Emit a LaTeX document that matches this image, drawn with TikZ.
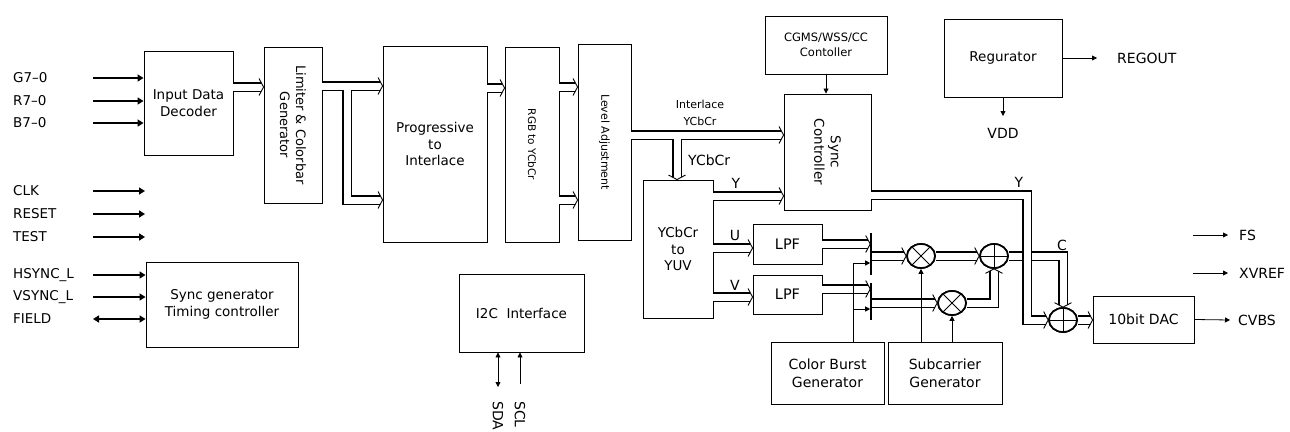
\documentclass[tikz,border=0pt]{standalone}
\usepackage{fontspec}
\setmainfont{DejaVu Sans}
\usetikzlibrary{arrows.meta,shapes.geometric,calc}
\begin{document}
\begin{tikzpicture}[x=1pt,y=-1pt,
  box/.style={draw, line width=0.9pt, inner sep=0pt, align=center, font=\fontsize{13.5}{16.5}\selectfont},
  lbl/.style={inner sep=0pt, font=\fontsize{13.5}{16}\selectfont},
  inarr/.style={line width=1.5pt, -{Triangle[length=6pt,width=7pt]}},
  sarr/.style={line width=0.8pt, -{Triangle[length=5pt,width=5pt]}},
  op/.style={draw, ellipse, line width=1.7pt, inner sep=0pt, minimum width=28pt, minimum height=24pt},
  bar/.style={fill=black, inner sep=0pt, minimum width=1.2pt},
  dblack/.style={line width=10pt, shorten >=2.4pt},
  dwhite/.style={white, line width=7pt, shorten >=1pt},
  dstyle/.style={dblack},
  tipr/.pic={\draw[line width=0.9pt] (-4.5,-8.5) -- (0,0) -- (-4.5,8.5);},
  tipd/.pic={\draw[line width=0.9pt] (-8.5,-4.5) -- (0,0) -- (8.5,-4.5);},
  tipu/.pic={\draw[line width=0.9pt] (-8.5,4.5) -- (0,0) -- (8.5,4.5);}
]
\useasboundingbox (0,0) rectangle (1290,431);

% boxes
\node[box, minimum width=89pt, minimum height=104pt] (dec) at (188.5,103) {Input Data\\Decoder};
\node[box, minimum width=58pt, minimum height=156pt] (lim) at (293,125) {};
\node[rotate=-90, align=center, inner sep=0pt, font=\fontsize{13}{16}\selectfont] (limt) at (lim.center) {Limiter \& Colorbar\\Generator};
\node[box, minimum width=104pt, minimum height=196pt] (prog) at (435,144) {Progressive\\to\\Interlace};
\node[box, minimum width=54pt, minimum height=195pt] (rgb) at (532,144.5) {};
\node[rotate=-90, inner sep=0pt, font=\fontsize{10.5}{13}\selectfont] (rgbt) at (rgb.center) {RGB to YCbCr};
\node[box, minimum width=53pt, minimum height=196pt] (lvl) at (604.5,142) {};
\node[rotate=-90, inner sep=0pt, font=\fontsize{11}{13}\selectfont] (lvlt) at (lvl.center) {Level Adjustment};
\node[box, minimum width=152pt, minimum height=85pt] (sgen) at (222,304.5) {Sync generator\\Timing controller};
\node[box, minimum width=125pt, minimum height=78pt] (i2c) at (521.5,313) {I2C\ \ Interface};
\node[box, minimum width=70pt, minimum height=138pt] (yuv) at (678,249) {YCbCr\\to\\YUV};
\node[box, minimum width=87pt, minimum height=116pt] (sync) at (827.5,152) {};
\node[rotate=-90, align=center, inner sep=0pt, font=\fontsize{13.5}{16.5}\selectfont] (synct) at (sync.center) {Sync\\Controller};
\node[box, minimum width=122pt, minimum height=58pt, font=\fontsize{11.5}{14.5}\selectfont] (cgms) at (826,45) {CGMS/WSS/CC\\Contoller};
\node[box, minimum width=118pt, minimum height=78pt] (reg) at (1003,58) {Regurator};
\node[box, minimum width=69pt, minimum height=40pt, font=\fontsize{14.5}{17}\selectfont] (lpf1) at (787.5,244) {LPF};
\node[box, minimum width=69pt, minimum height=39pt, font=\fontsize{14.5}{17}\selectfont] (lpf2) at (787.5,294.5) {LPF};
\node[box, minimum width=113pt, minimum height=62pt, font=\fontsize{14}{18}\selectfont] (cb) at (827.5,373) {Color Burst\\Generator};
\node[box, minimum width=114pt, minimum height=62pt, font=\fontsize{14}{18}\selectfont] (sc) at (945,373) {Subcarrier\\Generator};
\node[box, minimum width=101pt, minimum height=47pt, font=\fontsize{14}{17}\selectfont] (dac) at (1143.5,319.5) {10bit DAC};

% operators
\node[op] (m1) at (921,256) {};
\node[op] (m2) at (952,303) {};
\node[op] (a1) at (994,256) {};
\node[op] (a2) at (1063,320) {};

% bars
\node[bar, minimum height=42pt] (bar1) at (871,254) {};
\node[bar, minimum height=37pt] (bar2) at (871,301.5) {};

% double-line data paths: black pass, then white pass
\newcommand\dpth[1]{\draw[dstyle] #1;}
\newcommand\allpaths{%
  \dpth{(dec.east |- 0,87) -- (lim.west |- 0,87)}
  \dpth{(lim.east |- 0,86) -- (prog.west |- 0,86)}
  \dpth{(347,86) -- (347,200) -- (prog.west |- 0,200)}
  \dpth{(prog.east |- 0,88) -- (rgb.west |- 0,88)}
  \dpth{(rgb.east |- 0,87) -- (lvl.west |- 0,87)}
  \dpth{(rgb.east |- 0,200) -- (lvl.west |- 0,200)}
  \dpth{(lvl.east |- 0,135) -- (sync.west |- 0,135)}
  \dpth{(677,135) -- (yuv.north -| 677,0)}
  \dpth{(yuv.east |- 0,196) -- (sync.west |- 0,196)}
  \dpth{(yuv.east |- 0,248) -- (lpf1.west |- 0,248)}
  \dpth{(yuv.east |- 0,297) -- (lpf2.west |- 0,297)}
  \dpth{(lpf1.east |- 0,244) -- (bar1.west |- 0,244)}
  \dpth{(lpf2.east |- 0,289) -- (bar2.west |- 0,289)}
  \dpth{(bar1.east |- m1.west) -- (m1.west)}
  \dpth{(bar2.east |- m2.west) -- (m2.west)}
  \dpth{(m1.east) -- (a1.west)}
  \dpth{(m2.east) -- (a1.south |- m2.east) -- (a1.south)}
  \dpth{(a2.east) -- (dac.west |- a2.east)}
}
\allpaths
\tikzset{dstyle/.style={dwhite}}
\allpaths
% C path, then Y path drawn over it
\draw[dblack] (a1.east) -- (a2.north |- a1.east) -- (a2.north);
\draw[dwhite] (a1.east) -- (a2.north |- a1.east) -- (a2.north);
\draw[dblack] (sync.east |- 0,195) -- (1027,195) -- (1027,320) -- (a2.west);
\draw[dwhite] (sync.east |- 0,195) -- (1027,195) -- (1027,320) -- (a2.west);

% open arrow heads of the double lines
\foreach \p in {{lim.west |- 0,87},{prog.west |- 0,86},{prog.west |- 0,200},{rgb.west |- 0,88},
  {lvl.west |- 0,87},{lvl.west |- 0,200},{sync.west |- 0,135},{sync.west |- 0,196},
  {lpf1.west |- 0,248},{lpf2.west |- 0,297},{bar1.west |- 0,244},{bar2.west |- 0,289},
  {m1.west},{m2.west},{a1.west},{a2.west},{dac.west |- a2.east}}
  {\pic at (\p) {tipr};}
\pic at (yuv.north -| 677,0) {tipd};
\pic at (a2.north) {tipd};
\pic at (a1.south) {tipu};

% operator symbols (drawn over line ends)
\foreach \n in {m1,m2,a1,a2} {\node[op, fill=white] at (\n.center) {};}
\foreach \n in {m1,m2} {\draw[line width=0.8pt] (\n.45) -- (\n.225) (\n.135) -- (\n.315);}
\foreach \n in {a1,a2} {\draw[line width=0.8pt] (\n.north) -- (\n.south) (\n.west) -- (\n.east);}

% data path labels
\node[lbl, align=center, font=\fontsize{11}{17}\selectfont] (til) at (700,113) {Interlace\\YCbCr};
\node[lbl, anchor=west, font=\fontsize{14}{17}\selectfont] (tyc) at (688,160) {YCbCr};
\node[lbl, font=\fontsize{14}{17}\selectfont] (ty1) at (736,183) {Y};
\node[lbl, font=\fontsize{14}{17}\selectfont] (tu) at (735,235) {U};
\node[lbl, font=\fontsize{14}{17}\selectfont] (tv) at (735,285) {V};
\node[lbl, font=\fontsize{14}{17}\selectfont] (ty2) at (1019,182) {Y};
\node[lbl, font=\fontsize{14}{17}\selectfont] (tc) at (1062,245) {C};

% left labels and inputs
\foreach \t/\y/\n in {G7–0/78/g, R7–0/101/r, B7–0/123/b} {
  \node[lbl, anchor=west] (l\n) at (13,\y) {\t};
  \coordinate (s\n) at (93,\y);
  \draw[inarr] (s\n) -- (s\n -| dec.west);
}
\foreach \t/\y/\n in {CLK/191/c, RESET/214/rs, TEST/237/t} {
  \node[lbl, anchor=west] (l\n) at (13,\y) {\t};
  \coordinate (s\n) at (93,\y);
  \coordinate (e\n) at (145,\y);
  \draw[inarr] (s\n) -- (e\n);
}
\foreach \t/\y/\n in {HSYNC\_L/275/h, VSYNC\_L/297/v} {
  \node[lbl, anchor=west] (l\n) at (13,\y) {\t};
  \coordinate (s\n) at (93,\y);
  \draw[inarr] (s\n) -- (s\n -| sgen.west);
}
\node[lbl, anchor=west] (lf) at (13,319) {FIELD};
\coordinate (sf) at (93,319);
\draw[line width=1.5pt, {Triangle[length=6pt,width=7pt]}-{Triangle[length=6pt,width=7pt]}] (sf) -- (sf -| sgen.west);

% thin control lines
\draw[sarr] (cgms.south) -- (cgms.south |- sync.north);
\coordinate (cbtop) at (853,342);
\coordinate (cbk1) at (853,263);
\coordinate (cbk2) at (853,309);
\draw[line width=0.8pt] (cbtop) -- (cbk1);
\draw[sarr] (cbk1) -- (bar1.west |- cbk1);
\draw[sarr] (cbk2) -- (bar2.west |- cbk2);
\coordinate (sc1) at (921,342);
\coordinate (sc2) at (952,342);
\draw[sarr] (sc1) -- (m1.south);
\draw[sarr] (sc2) -- (m2.south);

% regulator
\node[lbl, anchor=west, font=\fontsize{14}{17}\selectfont] (regout) at (1117,58) {REGOUT};
\coordinate (regend) at (1097,58);
\draw[sarr] (reg.east) -- (regend);
\node[lbl, font=\fontsize{14}{17}\selectfont] (vdd) at (1003,133) {VDD};
\coordinate (vddend) at (1003,116);
\draw[sarr] (reg.south) -- (vddend);

% outputs
\foreach \t/\y/\n in {FS/235/fs, XVREF/273/xv} {
  \coordinate (o\n) at (1193,\y);
  \coordinate (p\n) at (1228,\y);
  \draw[sarr] (o\n) -- (p\n);
  \node[lbl, anchor=west, font=\fontsize{14}{17}\selectfont] (t\n) at (1239,\y) {\t};
}
\coordinate (pcv) at (1230,320);
\draw[sarr] (dac.east) -- (pcv);
\node[lbl, anchor=west, font=\fontsize{14}{17}\selectfont] (tcv) at (1238,320) {CVBS};

% I2C pins
\coordinate (sdaend) at (498,387);
\coordinate (sclend) at (520,384);
\draw[line width=0.8pt, {Triangle[length=5pt,width=5pt]}-{Triangle[length=5pt,width=5pt]}] (i2c.south -| sdaend) -- (sdaend);
\draw[sarr] (sclend) -- (i2c.south -| sclend);
\node[lbl, rotate=-90, anchor=west, font=\fontsize{14}{17}\selectfont] (tsda) at (498,401) {SDA};
\node[lbl, rotate=-90, anchor=west, font=\fontsize{14}{17}\selectfont] (tscl) at (520,401) {SCL};
\end{tikzpicture}
\end{document}
